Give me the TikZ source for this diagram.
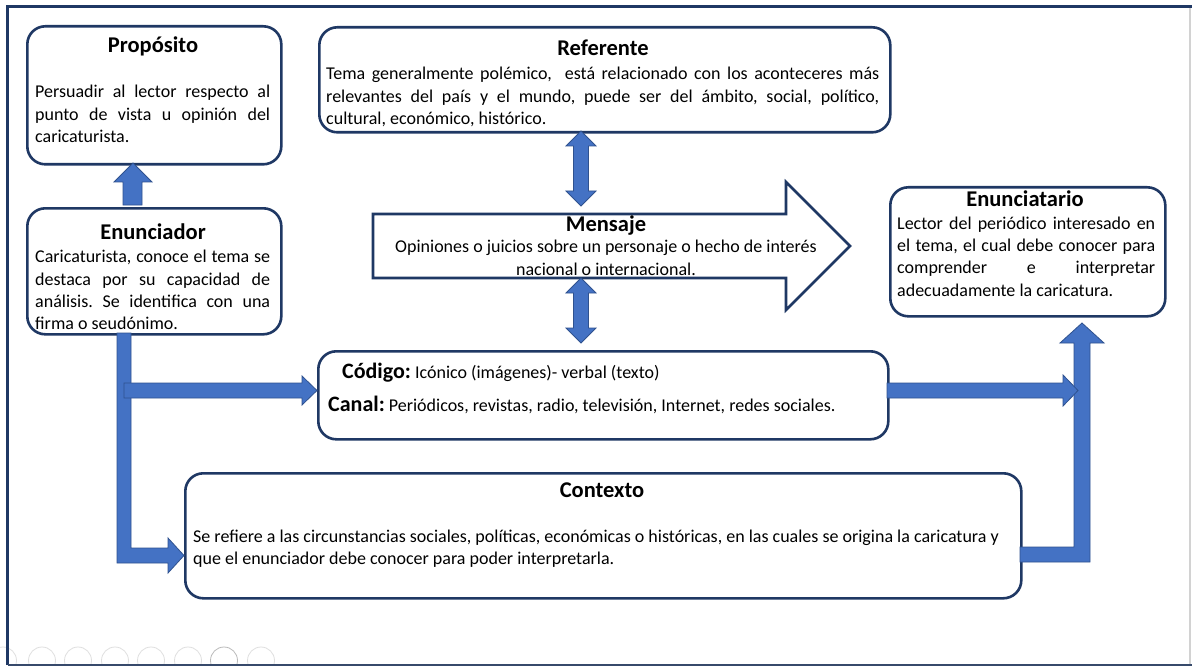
\documentclass[tikz,border=0pt]{standalone}
\usepackage{fontspec}
\setmainfont{Carlito}
\definecolor{navy}{HTML}{1F3864}
\definecolor{ablue}{HTML}{4472C4}
\definecolor{aedge}{HTML}{2F528F}
\frenchspacing
\begin{document}
\begin{tikzpicture}[x=1pt,y=-1pt,
  box/.style={draw=navy, line width=2.6pt, rounded corners=18pt, fill=white, inner sep=0pt, anchor=north west},
  barrow/.style={fill=ablue, draw=aedge, line width=0.8pt, line join=miter},
  ttl/.style={font=\fontsize{22.5}{27}\selectfont\bfseries, inner sep=0pt, anchor=base},
  body/.style={font=\fontsize{18}{22.3}\selectfont, inner sep=0pt, anchor=north west, align=left},
  tool/.style={draw=gray!25, line width=0.8pt},
]
\useasboundingbox (0,0) rectangle (1192,666);
\fill[white] (0,0) rectangle (1192,666);

% toolbar circles (faint)
\begin{scope}
\clip (0,0) rectangle (1192,664);
\foreach \cx in {3,42,78,115,151,188,261} \draw[tool] (\cx,660.5) circle (13.5);
\draw[draw=gray!55, line width=0.8pt] (224,660.5) circle (13.5);
\end{scope}

% frame
\draw[navy, line width=3pt] (7.5,665) -- (7.5,7) -- (1192,7);
\draw[gray!35, line width=1.2pt] (1190,8) -- (1190,664);
\draw[navy!75!gray, line width=1.5pt] (7.5,665) -- (1192,665);

% boxes
\node[box, minimum width=254pt, minimum height=138pt] (prop) at (26,25) {};
\node[box, minimum width=254pt, minimum height=126pt] (enun) at (26,207) {};
\node[box, minimum width=571pt, minimum height=105pt] (ref) at (318,26) {};
\node[box, minimum width=570pt, minimum height=88pt] (cod) at (317,350) {};
\node[box, minimum width=275pt, minimum height=129pt] (enu) at (889,186) {};
\node[box, minimum width=836pt, minimum height=125pt] (con) at (184,472) {};

% mensaje arrow
\draw[navy, line width=2.6pt, fill=white, line join=miter] (373,214) -- (786,214) -- (786,182) -- (850,246) -- (786,310) -- (786,278) -- (373,278) -- cycle;

% titles
\node[ttl] (propT) at (153,53) {Propósito};
\node[ttl] (enunT) at (153,239) {Enunciador};
\node[ttl] (refT) at (603,56) {Referente};
\node[ttl] (mensT) at (606,231) {Mensaje};
\node[ttl] (enuT) at (1025,206) {Enunciatario};
\node[ttl] (conT) at (602,497) {Contexto};

% bodies
\node[body] (propB) at (35,82) {\strut\makebox[235pt][s]{Persuadir al lector respecto al}\\\makebox[235pt][s]{punto de vista u opinión del}\\caricaturista.};
\node[body] (enunB) at (35,247) {\strut\makebox[235pt][s]{Caricaturista, conoce el tema se}\\\makebox[235pt][s]{destaca por su capacidad de}\\\makebox[235pt][s]{análisis. Se identifica con una}\\firma o seudónimo.};
\node[body] (refB) at (326,64) {\strut\makebox[553pt][s]{Tema generalmente polémico,\ \ está relacionado con los aconteceres más}\\\makebox[553pt][s]{relevantes del país y el mundo, puede ser del ámbito, social, político,}\\cultural, económico, histórico.};
\node[body, anchor=north, align=center] (mensB) at (606,237) {\strut Opiniones o juicios sobre un personaje o hecho de interés\\nacional o internacional.};
\node[body] (enuB) at (897,213.5) {\strut\makebox[258pt][s]{Lector del periódico interesado en}\\\makebox[258pt][s]{el tema, el cual debe conocer para}\\\makebox[258pt][s]{comprender e interpretar}\\adecuadamente la caricatura.};
\node[body, font=\fontsize{18}{22}\selectfont] (conB) at (193,527) {\strut Se refiere a las circunstancias sociales, políticas, económicas o históricas, en las cuales se origina la caricatura y\\que el enunciador debe conocer para poder interpretarla.};
\node[inner sep=0pt, anchor=base west, font=\fontsize{18}{22}\selectfont] (codT) at (342,378) {{\fontsize{22}{26}\selectfont\bfseries Código:} Icónico (imágenes)- verbal (texto)};
\node[inner sep=0pt, anchor=base west, font=\fontsize{18}{22}\selectfont] (canT) at (328,411) {{\fontsize{22}{26}\selectfont\bfseries Canal:} Periódicos, revistas, radio, televisión, Internet, redes sociales.};

% blue arrows
\draw[barrow] (123,205) -- (123,182) -- (114,182) -- (133,163) -- (152,182) -- (142,182) -- (142,205) -- cycle;
\draw[barrow] (581,131) -- (596,146) -- (588.5,146) -- (588.5,191) -- (596,191) -- (581,206) -- (566,191) -- (573.5,191) -- (573.5,146) -- (566,146) -- cycle;
\draw[barrow] (581,278) -- (596,293) -- (588.5,293) -- (588.5,328) -- (596,328) -- (581,343) -- (566,328) -- (573.5,328) -- (573.5,293) -- (566,293) -- cycle;
\draw[barrow] (117,333) -- (117,563) -- (168,563) -- (168,573) -- (184,555.5) -- (168,538) -- (168,548) -- (131,548) -- (131,333) -- cycle;
\draw[barrow] (124,383) -- (302,383) -- (302,376) -- (317,390.5) -- (302,405) -- (302,398) -- (124,398) -- cycle;
\draw[barrow] (1020,547) -- (1074,547) -- (1074,343) -- (1060,343) -- (1082,323) -- (1104,343) -- (1090,343) -- (1090,562) -- (1020,562) -- cycle;
\draw[barrow] (887,383) -- (1063,383) -- (1063,375) -- (1078,390.5) -- (1063,406) -- (1063,398) -- (887,398) -- cycle;
\end{tikzpicture}
\end{document}
